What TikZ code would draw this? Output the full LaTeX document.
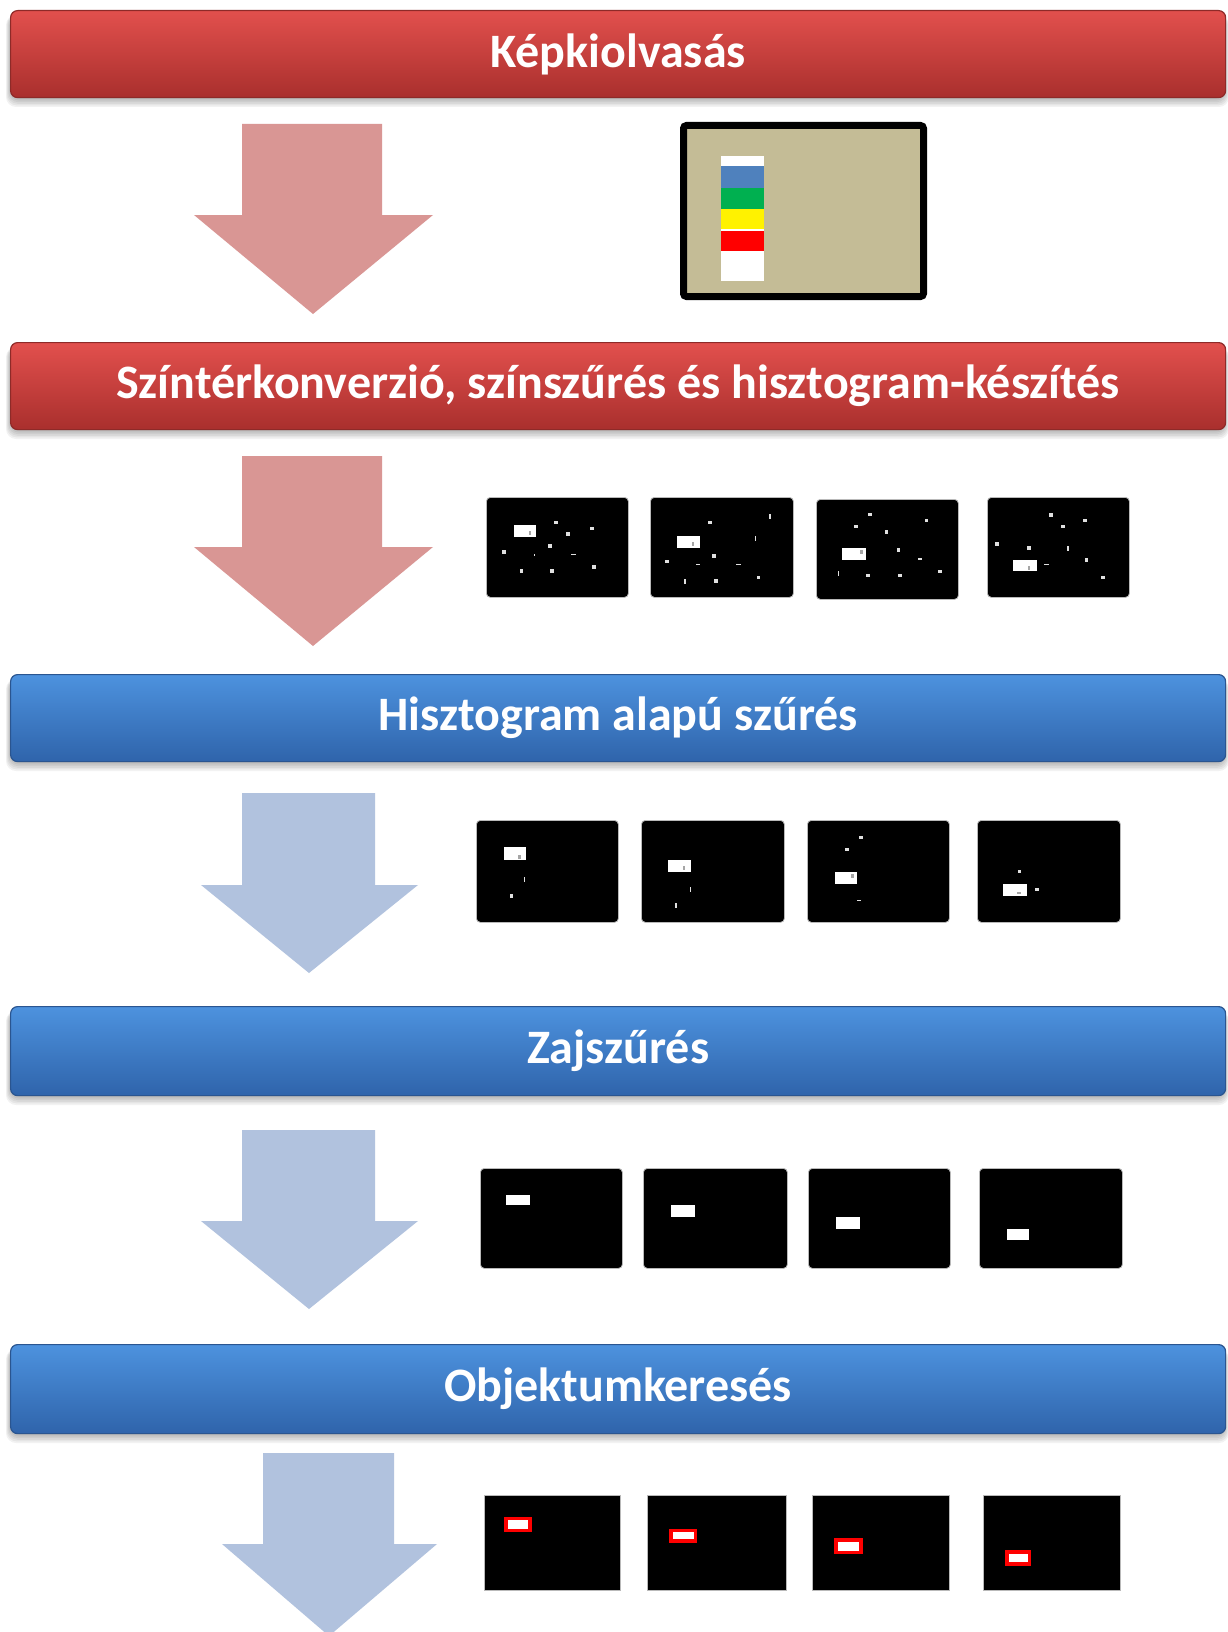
\documentclass[tikz,border=0pt]{standalone}
\usepackage{fontspec}
\setmainfont{Carlito}
\definecolor{redTop}{HTML}{E2504D}
\definecolor{redBot}{HTML}{A92F2D}
\definecolor{redEdge}{HTML}{8E2A28}
\definecolor{blueTop}{HTML}{4D92DE}
\definecolor{blueBot}{HTML}{2F64AB}
\definecolor{blueEdge}{HTML}{2A5590}
\definecolor{redArrow}{HTML}{D99694}
\definecolor{blueArrow}{HTML}{B1C2DE}
\definecolor{tanFill}{HTML}{C4BC96}
\definecolor{stBlue}{HTML}{4F81BD}
\definecolor{stGreen}{HTML}{00B050}
\definecolor{dotCol}{HTML}{E0E0E0}
\tikzset{
  x=1pt, y=-1pt,
  barbase/.style={rounded corners=7pt, line width=1.2pt, anchor=north west, inner sep=0pt,
     minimum width=1215pt, minimum height=87pt, text=white,
     font=\bfseries\fontsize{48}{56}\selectfont},
  redbar/.style={barbase, top color=redTop, bottom color=redBot, draw=redEdge},
  bluebar/.style={barbase, top color=blueTop, bottom color=blueBot, draw=blueEdge},
  redarrow/.style={fill=redArrow},
  bluearrow/.style={fill=blueArrow},
  thumb/.style={fill=black, draw=gray!55, line width=0.8pt, rounded corners=4pt,
     anchor=north west, inner sep=0pt},
  sharpthumb/.style={thumb, rounded corners=0pt},
  dotc/.style={fill=dotCol},
}
\newcommand\tdot[2]{\fill[dotc] (#1,#2) +(-1.8pt,-1.8pt) rectangle +(1.8pt,1.8pt);}
\newcommand\ttick[2]{\fill[dotc] (#1,#2) +(-0.8pt,-2.4pt) rectangle +(0.8pt,2.4pt);}
\newcommand\tdash[2]{\fill[dotc] (#1,#2) +(-2.4pt,-0.8pt) rectangle +(2.4pt,0.8pt);}
\newcommand\tmark[2]{\fill[gray!70] (#1,#2) +(-1.3pt,-2pt) rectangle +(1.3pt,2pt);}
\newcommand\tblob[4]{\fill[white] (#1,#2) rectangle (#3,#4);}
\newcommand\tred[4]{\draw[red, line width=3.5pt, fill=white] (#1,#2) rectangle (#3,#4);}
\newcommand\barshadow[4]{\foreach \k in {0,...,5}{\fill[black,opacity=0.05,rounded corners=10pt] (#1-\k*0.8,#2+5) rectangle (#3+\k*0.8,#4+2+\k*1.6);}}
\begin{document}
\begin{tikzpicture}
\useasboundingbox (0,0) rectangle (1227,1632);
\fill[white] (0,0) rectangle (1227,1632);

% ---------- bars ----------
\barshadow{10}{10}{1225}{97}
\node[redbar] (b1) at (10,10) {Képkiolvasás};
\barshadow{10}{342}{1225}{429}
\node[redbar] (b2) at (10,342) {Színtérkonverzió, színszűrés és hisztogram-készítés};
\barshadow{10}{674}{1225}{761}
\node[bluebar] (b3) at (10,674) {Hisztogram alapú szűrés};
\barshadow{10}{1006}{1225}{1095}
\node[bluebar, minimum height=89pt] (b4) at (10,1006) {Zajszűrés};
\barshadow{10}{1344}{1225}{1433}
\node[bluebar, minimum height=89pt] (b5) at (10,1344) {Objektumkeresés};

% ---------- arrows ----------
\fill[redarrow] (242,124) -- (382,124) -- (382,215) -- (433,215) -- (313,314) -- (194,215) -- (242,215) -- cycle;
\fill[redarrow] (242,456) -- (382,456) -- (382,547) -- (433,547) -- (313,646) -- (194,547) -- (242,547) -- cycle;
\fill[bluearrow] (242,793) -- (375,793) -- (375,885) -- (418,885) -- (309,973) -- (201,885) -- (242,885) -- cycle;
\fill[bluearrow] (242,1130) -- (375,1130) -- (375,1221) -- (418,1221) -- (309,1309) -- (201,1221) -- (242,1221) -- cycle;
\fill[bluearrow] (263,1453) -- (394,1453) -- (394,1544) -- (437,1544) -- (329,1636) -- (222,1544) -- (263,1544) -- cycle;

% ---------- input image ----------
\node[draw=black, line width=7pt, fill=tanFill, rounded corners=3pt, anchor=north west,
      minimum width=240pt, minimum height=171pt, inner sep=0pt] (img) at (680,122) {};
\fill[white] (721,156) rectangle (764,166);
\fill[stBlue] (721,166) rectangle (764,188);
\fill[stGreen] (721,188) rectangle (764,209);
\fill[yellow] (721,209) rectangle (764,229);
\fill[white] (721,229) rectangle (764,231);
\fill[red] (721,231) rectangle (764,251);
\fill[white] (721,251) rectangle (764,281);

% ---------- row 2 ----------
\node[thumb, minimum width=142pt, minimum height=100pt] (r2a) at (486,497) {};
\begin{scope}[shift={(r2a.north west)}, x=142pt, y=-100pt]
\tblob{0.195}{0.275}{0.353}{0.395}\tmark{0.31}{0.36}
\tdot{0.491}{0.256}\tdot{0.746}{0.314}\tdot{0.578}{0.372}\tdot{0.449}{0.489}
\tdot{0.126}{0.547}\fill[dotc] (0.341,0.579) +(-0.8pt,-0.8pt) rectangle +(0.8pt,0.8pt);
\tdash{0.617}{0.576}\tdot{0.251}{0.741}\tdot{0.464}{0.741}\tdot{0.760}{0.702}
\end{scope}
\node[thumb, minimum width=143pt, minimum height=100pt] (r2b) at (650,497) {};
\begin{scope}[shift={(r2b.north west)}, x=143pt, y=-100pt]
\tblob{0.192}{0.392}{0.351}{0.511}\tmark{0.300}{0.469}
\tdot{0.420}{0.256}\ttick{0.838}{0.194}\ttick{0.739}{0.411}\tdot{0.447}{0.589}
\tdot{0.120}{0.644}\tdash{0.336}{0.676}\tdash{0.619}{0.676}\ttick{0.243}{0.841}
\tdot{0.462}{0.841}\tdot{0.760}{0.803}
\end{scope}
\node[thumb, minimum width=142pt, minimum height=100pt] (r2c) at (816,499) {};
\begin{scope}[shift={(r2c.north west)}, x=142pt, y=-100pt]
\tblob{0.183}{0.492}{0.351}{0.606}\tmark{0.321}{0.528}
\tdot{0.381}{0.156}\tdot{0.778}{0.215}\tdot{0.282}{0.274}\tdot{0.495}{0.332}
\tdot{0.580}{0.508}\tdash{0.733}{0.599}\tdot{0.874}{0.723}\ttick{0.159}{0.746}
\tdot{0.366}{0.765}\tdot{0.592}{0.765}
\end{scope}
\node[thumb, minimum width=142pt, minimum height=100pt] (r2d) at (987,497) {};
\begin{scope}[shift={(r2d.north west)}, x=142pt, y=-100pt]
\tblob{0.183}{0.628}{0.350}{0.744}\tmark{0.296}{0.706}
\tdot{0.449}{0.178}\tdot{0.689}{0.236}\tdot{0.533}{0.294}\tdot{0.069}{0.469}
\tdot{0.296}{0.511}\ttick{0.569}{0.511}\tdash{0.419}{0.676}\tdot{0.701}{0.628}
\tdot{0.817}{0.803}
\end{scope}

% ---------- row 3 ----------
\node[thumb, minimum width=142pt, minimum height=102pt] (r3a) at (476,820) {};
\begin{scope}[shift={(r3a.north west)}, x=142pt, y=-102pt]
\tblob{0.195}{0.269}{0.353}{0.390}\tmark{0.308}{0.367}
\ttick{0.341}{0.584}\tdot{0.251}{0.747}
\end{scope}
\node[thumb, minimum width=143pt, minimum height=102pt] (r3b) at (641,820) {};
\begin{scope}[shift={(r3b.north west)}, x=143pt, y=-102pt]
\tblob{0.192}{0.390}{0.351}{0.506}\tmark{0.300}{0.468}
\ttick{0.345}{0.682}\ttick{0.243}{0.838}
\end{scope}
\node[thumb, minimum width=142pt, minimum height=102pt] (r3c) at (807,820) {};
\begin{scope}[shift={(r3c.north west)}, x=142pt, y=-102pt]
\tblob{0.198}{0.506}{0.351}{0.627}\tmark{0.321}{0.545}
\tdot{0.381}{0.172}\tdot{0.282}{0.289}\tdash{0.366}{0.789}
\end{scope}
\node[thumb, minimum width=143pt, minimum height=102pt] (r3d) at (977,820) {};
\begin{scope}[shift={(r3d.north west)}, x=143pt, y=-102pt]
\tblob{0.183}{0.623}{0.350}{0.747}\fill[gray!70] (0.296,0.714) +(-2pt,-1.2pt) rectangle +(2pt,1.2pt);
\tdot{0.296}{0.506}\tdot{0.419}{0.682}
\end{scope}

% ---------- row 4 ----------
\node[thumb, minimum width=142pt, minimum height=100pt] (r4a) at (480,1168) {};
\begin{scope}[shift={(r4a.north west)}, x=142pt, y=-100pt]
\tblob{0.185}{0.273}{0.352}{0.373}
\end{scope}
\node[thumb, minimum width=144pt, minimum height=100pt] (r4b) at (643,1168) {};
\begin{scope}[shift={(r4b.north west)}, x=144pt, y=-100pt]
\tblob{0.192}{0.370}{0.360}{0.490}
\end{scope}
\node[thumb, minimum width=142pt, minimum height=100pt] (r4c) at (808,1168) {};
\begin{scope}[shift={(r4c.north west)}, x=142pt, y=-100pt]
\tblob{0.195}{0.490}{0.363}{0.607}
\end{scope}
\node[thumb, minimum width=143pt, minimum height=100pt] (r4d) at (979,1168) {};
\begin{scope}[shift={(r4d.north west)}, x=143pt, y=-100pt]
\tblob{0.197}{0.607}{0.352}{0.724}
\end{scope}

% ---------- row 5 ----------
\node[sharpthumb, minimum width=136pt, minimum height=95pt] (r5a) at (484,1495) {};
\begin{scope}[shift={(r5a.north west)}, x=136pt, y=-95pt]
\tred{0.161}{0.247}{0.339}{0.374}
\end{scope}
\node[sharpthumb, minimum width=139pt, minimum height=95pt] (r5b) at (647,1495) {};
\begin{scope}[shift={(r5b.north west)}, x=139pt, y=-95pt]
\tred{0.174}{0.371}{0.349}{0.484}
\end{scope}
\node[sharpthumb, minimum width=137pt, minimum height=95pt] (r5c) at (812,1495) {};
\begin{scope}[shift={(r5c.north west)}, x=137pt, y=-95pt]
\tred{0.176}{0.475}{0.357}{0.605}
\end{scope}
\node[sharpthumb, minimum width=137pt, minimum height=95pt] (r5d) at (983,1495) {};
\begin{scope}[shift={(r5d.north west)}, x=137pt, y=-95pt]
\tred{0.174}{0.599}{0.339}{0.725}
\end{scope}
\end{tikzpicture}
\end{document}
